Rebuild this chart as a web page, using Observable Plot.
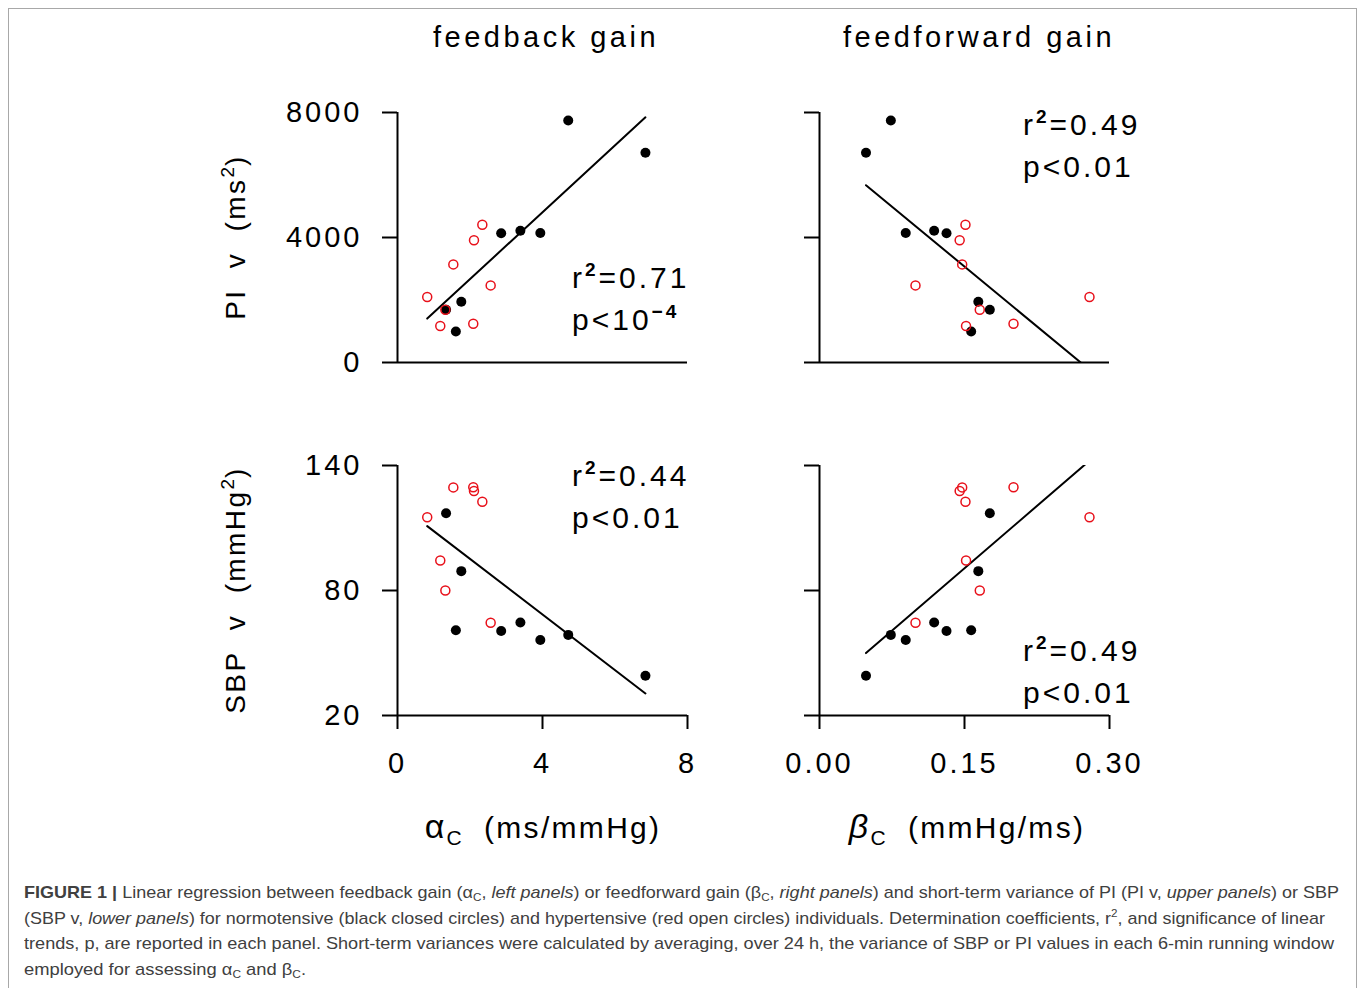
<!DOCTYPE html>
<html>
<head>
<meta charset="utf-8">
<script src="https://cdn.jsdelivr.net/npm/d3@7"></script>
<script src="https://cdn.jsdelivr.net/npm/@observablehq/plot@0.6"></script>
<style>
  body { margin: 0; background: #fff; }
  #fig { position: relative; width: 1357px; height: 988px; overflow: hidden; font-family: "Liberation Sans", Arial, sans-serif; color: #000; }
  #border { position: absolute; left: 8px; top: 8px; width: 1349px; height: 1010px; border: 1px solid #a8a8a8; box-sizing: border-box; }
  .abs { position: absolute; white-space: nowrap; }
  .title { font-size: 29px; letter-spacing: 3.5px; line-height: 29px; transform: translateX(-50%); }
  .ylab { font-size: 28px; letter-spacing: 2.4px; line-height: 28px; transform: translate(-50%, -50%) rotate(-90deg); }
  .xlab { font-size: 30px; letter-spacing: 2.3px; line-height: 30px; transform: translateX(-50%); }
  .xlab .sym { font-size: 34px; }
  .xlab sub { font-size: 21px; line-height: 0; vertical-align: -7px; letter-spacing: 1px; }
  .ylab sup { font-size: 19px; line-height: 0; vertical-align: 11px; letter-spacing: 1px; }
  .cap { font-size: 17px; line-height: 20px; color: #404040; transform-origin: 0 0; }
  .cap sub, .cap sup { font-size: 11px; line-height: 0; }
  .cap sub { vertical-align: -3px; }
  .cap sup { vertical-align: 7px; }
  .plot { position: absolute; }
</style>
</head>
<body>
<div id="fig">
  <div id="border"></div>
</div>
<script>
// ---------- data ----------
// normotensive subjects (black closed circles)
const normAlpha = [4.71, 6.84, 2.86, 3.39, 3.94, 1.76, 1.34, 1.61];          // alpha_C (ms/mmHg)
const normBeta  = [0.0738, 0.0481, 0.1314, 0.1186, 0.0892, 0.1643, 0.1762, 0.1569]; // beta_C (mmHg/ms)
const normPI    = [7744, 6710, 4138, 4218, 4145, 1942, 1686, 992];           // PI v (ms^2)
const normSBP   = [58.7, 39.1, 60.6, 64.6, 56.2, 89.3, 117.1, 60.9];        // SBP v (mmHg^2)
// hypertensive subjects (red open circles)
const hyperAlpha = [2.34, 2.11, 1.54, 2.57, 0.82, 1.32, 1.18, 2.09];
const hyperBeta  = [0.1510, 0.1450, 0.1476, 0.0993, 0.2793, 0.1658, 0.1516, 0.2007];
const hyperPI    = [4410, 3914, 3140, 2468, 2096, 1690, 1168, 1238];
const hyperSBP   = [122.6, 127.8, 129.5, 64.5, 115.2, 80.0, 94.4, 129.6];

// axes ticks
const alphaTicks = [0, 4, 8];
const betaTicks  = [0, 0.15, 0.30];
const piTicks    = [0, 4000, 8000];
const sbpTicks   = [20, 80, 140];

// annotations
const r2Values = ["0.71", "0.49", "0.44", "0.49"];
const pValues  = [["10", "\u22124"], ["0.01", ""], ["0.01", ""], ["0.01", ""]];

// ---------- build rows ----------
function rows(group, a, b, p, s) {
  return a.map((d, i) => ({group, alpha: d, beta: b[i], pi: p[i], sbp: s[i]}));
}
const norm = rows("normotensive", normAlpha, normBeta, normPI, normSBP);
const hyper = rows("hypertensive", hyperAlpha, hyperBeta, hyperPI, hyperSBP);
const all = norm.concat(hyper);

const FONT = '"Liberation Sans", Arial, sans-serif';
const RED = "#e8101a";

const panels = [
  {xKey: "alpha", yKey: "pi",  xDomain: [0, 8],    yDomain: [0, 8000], xTicks: alphaTicks, yTicks: piTicks,
   showX: false, showYLabels: true,  left: 250, top: 80,  width: 470, height: 300, ml: 147, mr: 33, mt: 32, mb: 18,
   ax: 572, ay: 288, k: 0},
  {xKey: "beta",  yKey: "pi",  xDomain: [0, 0.30], yDomain: [0, 8000], xTicks: betaTicks,  yTicks: piTicks,
   showX: false, showYLabels: false, left: 780, top: 80,  width: 380, height: 300, ml: 39,  mr: 51, mt: 32, mb: 18,
   ax: 1023, ay: 135, k: 1},
  {xKey: "alpha", yKey: "sbp", xDomain: [0, 8],    yDomain: [20, 140], xTicks: alphaTicks, yTicks: sbpTicks,
   showX: true,  showYLabels: true,  left: 250, top: 433, width: 470, height: 370, ml: 147, mr: 33, mt: 32, mb: 88,
   ax: 572, ay: 486, k: 2},
  {xKey: "beta",  yKey: "sbp", xDomain: [0, 0.30], yDomain: [20, 140], xTicks: betaTicks,  yTicks: sbpTicks,
   showX: true,  showYLabels: false, left: 760, top: 433, width: 400, height: 370, ml: 59,  mr: 51, mt: 32, mb: 88,
   ax: 1023, ay: 661, k: 3}
];

const fig = document.getElementById("fig");

for (const pn of panels) {
  const svg = Plot.plot({
    width: pn.width,
    height: pn.height,
    marginLeft: pn.ml, marginRight: pn.mr, marginTop: pn.mt, marginBottom: pn.mb,
    style: {background: "transparent", fontSize: "29px", fontFamily: FONT, letterSpacing: "3px", overflow: "visible", color: "#000"},
    x: {
      domain: pn.xDomain,
      axis: pn.showX ? "bottom" : null,
      ticks: pn.xTicks,
      tickSize: 14,
      tickPadding: 23,
      tickFormat: pn.xKey === "beta" ? d3.format(".2f") : d3.format("d"),
      label: null
    },
    y: {
      domain: pn.yDomain,
      ticks: pn.yTicks,
      tickSize: 15,
      tickPadding: 20,
      tickFormat: pn.showYLabels ? d3.format("d") : () => "",
      label: null
    },
    marks: [
      Plot.ruleX([pn.xDomain[0]], {stroke: "black", strokeWidth: 2}),
      Plot.ruleY([pn.yDomain[0]], {stroke: "black", strokeWidth: 2}),
      Plot.linearRegressionY(all, {x: pn.xKey, y: pn.yKey, stroke: "black", strokeWidth: 2, ci: 0, clip: true}),
      Plot.dot(norm, {x: pn.xKey, y: pn.yKey, r: 5, fill: "black", stroke: "none"}),
      Plot.dot(hyper, {x: pn.xKey, y: pn.yKey, r: 4.5, fill: "none", stroke: RED, strokeWidth: 1.5})
    ]
  });
  svg.classList.add("plot");
  svg.style.left = pn.left + "px";
  svg.style.top = pn.top + "px";
  svg.style.maxWidth = "none";
  fig.appendChild(svg);

  // thicker axis ticks
  d3.select(svg).selectAll('g[aria-label^="x-axis"] path, g[aria-label^="y-axis"] path, g[aria-label^="x-axis"] line, g[aria-label^="y-axis"] line')
    .attr("stroke-width", 2).style("stroke-width", 2);

  // annotation (r^2 and p)
  const sel = d3.select(svg);
  const lx = pn.ax - pn.left, ly = pn.ay - pn.top;
  const t1 = sel.append("text").attr("x", lx).attr("y", ly).attr("text-anchor", "start")
    .style("font-size", "30px").style("letter-spacing", "3px").attr("fill", "black");
  t1.append("tspan").text("r");
  t1.append("tspan").attr("dy", -12).style("font-size", "19px").style("font-weight", "bold").text("2");
  t1.append("tspan").attr("dy", 12).text("=" + r2Values[pn.k]);
  const pv = pValues[pn.k];
  const t2 = sel.append("text").attr("x", lx).attr("y", ly + 42).attr("text-anchor", "start")
    .style("font-size", "30px").style("letter-spacing", "3px").attr("fill", "black");
  t2.append("tspan").text("p<" + pv[0]);
  if (pv[1]) {
    t2.append("tspan").attr("dy", -12).style("font-size", "19px").style("font-weight", "bold").text(pv[1]);
  }
}

// ---------- peripheral text ----------
function addDiv(cls, html, x, y) {
  const d = document.createElement("div");
  d.className = "abs " + cls;
  d.innerHTML = html;
  d.style.left = x + "px";
  d.style.top = y + "px";
  fig.appendChild(d);
  return d;
}
addDiv("title", "feedback gain", 546, 23);
addDiv("title", "feedforward gain", 979, 23);
addDiv("ylab", "PI&nbsp;&nbsp;v&nbsp;&nbsp;(ms<sup>2</sup>)", 236, 237);
addDiv("ylab", "SBP&nbsp;&nbsp;v&nbsp;&nbsp;(mmHg<sup>2</sup>)", 236, 590);
addDiv("xlab", "<span class='sym'>&alpha;</span><sub>C</sub>&nbsp;&nbsp;(ms/mmHg)", 543, 811);
addDiv("xlab", "<span class='sym'><i>&beta;</i></span><sub>C</sub>&nbsp;&nbsp;(mmHg/ms)", 967, 811);

const captionLines = [
  "<b>FIGURE 1 |</b> Linear regression between feedback gain (&alpha;<sub>C</sub>, <i>left panels</i>) or feedforward gain (&beta;<sub>C</sub>, <i>right panels</i>) and short-term variance of PI (PI v, <i>upper panels</i>) or SBP",
  "(SBP v, <i>lower panels</i>) for normotensive (black closed circles) and hypertensive (red open circles) individuals. Determination coefficients, r<sup>2</sup>, and significance of linear",
  "trends, p, are reported in each panel. Short-term variances were calculated by averaging, over 24 h, the variance of SBP or PI values in each 6-min running window",
  "employed for assessing &alpha;<sub>C</sub> and &beta;<sub>C</sub>."
];
const captionWidths = [1315, 1301, 1310, 282];
captionLines.forEach((html, i) => {
  const d = addDiv("cap", html, 24, 883 + i * 25.7);
  const w = d.getBoundingClientRect().width;
  d.style.transform = "scaleX(" + (captionWidths[i] / w) + ")";
});
</script>
</body>
</html>
